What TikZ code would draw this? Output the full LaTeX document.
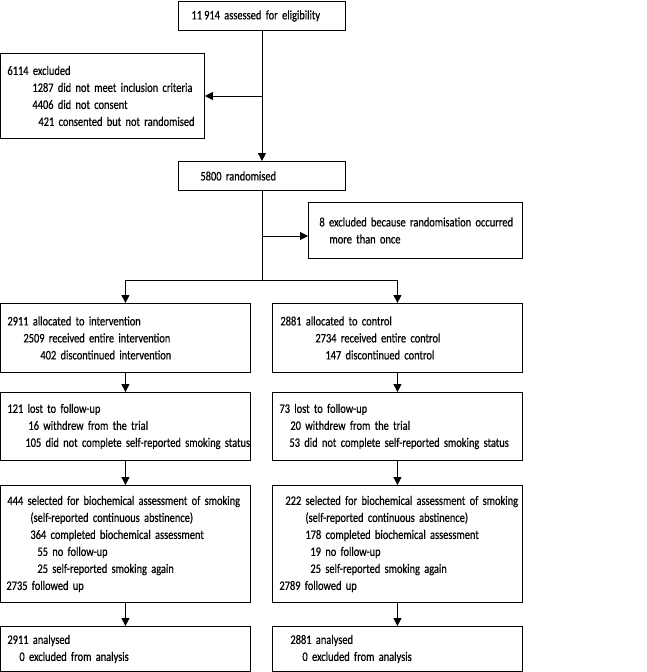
\documentclass[tikz,border=0pt]{standalone}
\usepackage{fontspec}
\setmainfont[FakeStretch=0.8,WordSpace=0.8,FakeBold=0.5]{Carlito}
\usetikzlibrary{arrows.meta,calc}
\newcommand{\li}[2]{\hspace*{#1pt}#2}

\begin{document}
\begin{tikzpicture}[x=1pt,y=-1pt,
    box/.style={draw,line width=0.9pt,anchor=north west,inner xsep=0pt,inner ysep=0pt,
      align=left,font=\fontsize{13}{17}\selectfont},
    arr/.style={line width=0.9pt,-{Triangle[length=8pt,width=8pt]}},
    ln/.style={line width=0.9pt}]
  \useasboundingbox (0,0) rectangle (647,672);
  % enrolment
  \node[box,text width=167pt,minimum height=29pt] (elig) at (178,1)
    {\li{13}{11\,914 assessed for eligibility}};
  \node[box,text width=204pt,minimum height=85pt] (excl) at (0,53)
    {\li{7}{6114 excluded}\\
     \li{32}{1287 did not meet inclusion criteria}\\
     \li{32}{4406 did not consent}\\
     \li{38}{421 consented but not randomised}};
  \node[box,text width=167pt,minimum height=29pt] (rand) at (178,161)
    {\li{22}{5800 randomised}};
  \node[box,text width=214pt,minimum height=56pt] (dup) at (308,202)
    {\li{11}{8 excluded because randomisation occurred}\\
     \li{21}{more than once}};
  % intervention arm
  \node[box,text width=250pt,minimum height=69pt] (int1) at (0,303)
    {\li{7}{2911 allocated to intervention}\\
     \li{23}{2509 received entire intervention}\\
     \li{40}{402 discontinued intervention}};
  \node[box,text width=250pt,minimum height=68pt] (int2) at (0,392)
    {\li{7}{121 lost to follow-up}\\
     \li{28}{16 withdrew from the trial}\\
     \li{25}{105 did not complete self-reported smoking status}};
  \node[box,text width=250pt,minimum height=117pt] (int3) at (0,485)
    {\li{7}{444 selected for biochemical assessment of smoking}\\
     \li{30}{(self-reported continuous abstinence)}\\
     \li{30}{364 completed biochemical assessment}\\
     \li{37}{55 no follow-up}\\
     \li{37}{25 self-reported smoking again}\\
     \li{6}{2735 followed up}};
  \node[box,text width=250pt,minimum height=45pt] (int4) at (0,626)
    {\li{7}{2911 analysed}\\
     \li{19}{0 excluded from analysis}};
  % control arm
  \node[box,text width=250pt,minimum height=69pt] (ctl1) at (272,303)
    {\li{8}{2881 allocated to control}\\
     \li{43}{2734 received entire control}\\
     \li{53}{147 discontinued control}};
  \node[box,text width=250pt,minimum height=68pt] (ctl2) at (272,392)
    {\li{7}{73 lost to follow-up}\\
     \li{18}{20 withdrew from the trial}\\
     \li{17}{53 did not complete self-reported smoking status}};
  \node[box,text width=250pt,minimum height=117pt] (ctl3) at (272,485)
    {\li{13}{222 selected for biochemical assessment of smoking}\\
     \li{33}{(self-reported continuous abstinence)}\\
     \li{33}{178 completed biochemical assessment}\\
     \li{38}{19 no follow-up}\\
     \li{38}{25 self-reported smoking again}\\
     \li{7}{2789 followed up}};
  \node[box,text width=250pt,minimum height=45pt] (ctl4) at (272,626)
    {\li{18}{2881 analysed}\\
     \li{30}{0 excluded from analysis}};
  % connectors
  \coordinate (ex) at (elig.south |- excl.east);
  \coordinate (dx) at (rand.south |- 0,236);
  \coordinate (split) at (rand.south |- 0,280);
  \draw[arr] (elig) -- (rand);
  \draw[arr] (ex) -- (excl.east);
  \draw[ln] (rand) -- (split);
  \draw[arr] (dx) -- (dx -| dup.west);
  \draw[arr] (split) -| (int1.north);
  \draw[arr] (split) -| (ctl1.north);
  \foreach \a/\b in {int1/int2,int2/int3,int3/int4,ctl1/ctl2,ctl2/ctl3,ctl3/ctl4}
    \draw[arr] (\a) -- (\b);
\end{tikzpicture}
\end{document}
